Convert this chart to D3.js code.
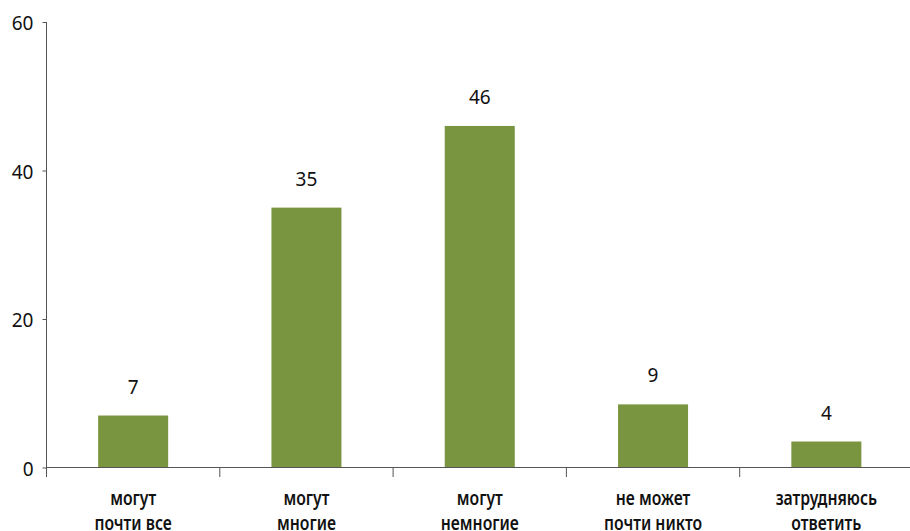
<!DOCTYPE html>
<html><head><meta charset="utf-8">
<script src="https://cdn.jsdelivr.net/npm/d3@7"></script>
<style>
html,body{margin:0;padding:0;background:#fff;}
svg{display:block;font-family:"Noto Sans",sans-serif;}
</style></head>
<body>
<svg id="chart" width="910" height="531"></svg>
<script>
const categories = [["могут","почти все"],["могут","многие"],["могут","немногие"],["не может","почти никто"],["затрудняюсь","ответить"]];
const values = [7, 35, 46, 8.5, 3.5];
const yTicks = [0, 20, 40, 60];

(function(){
const svg = d3.select("#chart");
const mLeft = 46.5, mRight = 913, mTop = 22, mBottom = 467.5;

const x = d3.scaleBand().domain(d3.range(categories.length)).range([mLeft, mRight])
  .paddingInner(0.596).paddingOuter(0.298);
const y = d3.scaleLinear().domain([0, 60]).range([mBottom, mTop]);

// bars
svg.append("g").selectAll("rect").data(values).join("rect")
  .attr("x", (d,i) => x(i))
  .attr("y", d => y(d))
  .attr("width", x.bandwidth())
  .attr("height", d => y(0) - y(d))
  .attr("fill", "#7a953f");

// value labels
svg.append("g").selectAll("text").data(values).join("text")
  .attr("x", (d,i) => x(i) + x.bandwidth()/2)
  .attr("y", d => y(d) - 22)
  .attr("text-anchor", "middle")
  .attr("font-size", 19)
  .attr("fill", "#111")
  .text(d => Math.round(d));

// y axis
const yAxis = svg.append("g").attr("transform", `translate(${mLeft},0)`)
  .call(d3.axisLeft(y).tickValues(yTicks).tickSize(4).tickPadding(9));
yAxis.select(".domain").attr("stroke", "#555").attr("d", `M0,${mTop}V${mBottom + 9.5}`);
yAxis.selectAll(".tick line").attr("stroke", "#555");
yAxis.selectAll(".tick text").attr("font-size", 19).attr("fill", "#111")
  .attr("font-family", "'Noto Sans',sans-serif").attr("dy", "0.42em");

// x axis line
const step = x.step();
const bounds = d3.range(categories.length + 1).map(i => mLeft + i * step);
const xg = svg.append("g");
xg.append("line").attr("x1", mLeft).attr("x2", mRight).attr("y1", mBottom).attr("y2", mBottom)
  .attr("stroke", "#555");
xg.selectAll("line.tk").data(bounds).join("line").attr("class","tk")
  .attr("x1", d => d).attr("x2", d => d).attr("y1", mBottom).attr("y2", mBottom + 9.5)
  .attr("stroke", "#555");

// category labels (condensed look via horizontal scale)
const cl = svg.append("g").selectAll("text").data(categories).join("text")
  .attr("transform", (d,i) => `translate(${x(i) + x.bandwidth()/2},505) scale(0.83,1)`)
  .attr("x", 0)
  .attr("y", 0)
  .attr("text-anchor", "middle")
  .attr("font-size", 19)
  .attr("font-weight", 600)
  .attr("fill", "#111");
cl.selectAll("tspan").data(d => d).join("tspan")
  .attr("x", 0)
  .attr("dy", (d,i) => i === 0 ? 0 : 25)
  .text(d => d);
})();
</script>
</body></html>
